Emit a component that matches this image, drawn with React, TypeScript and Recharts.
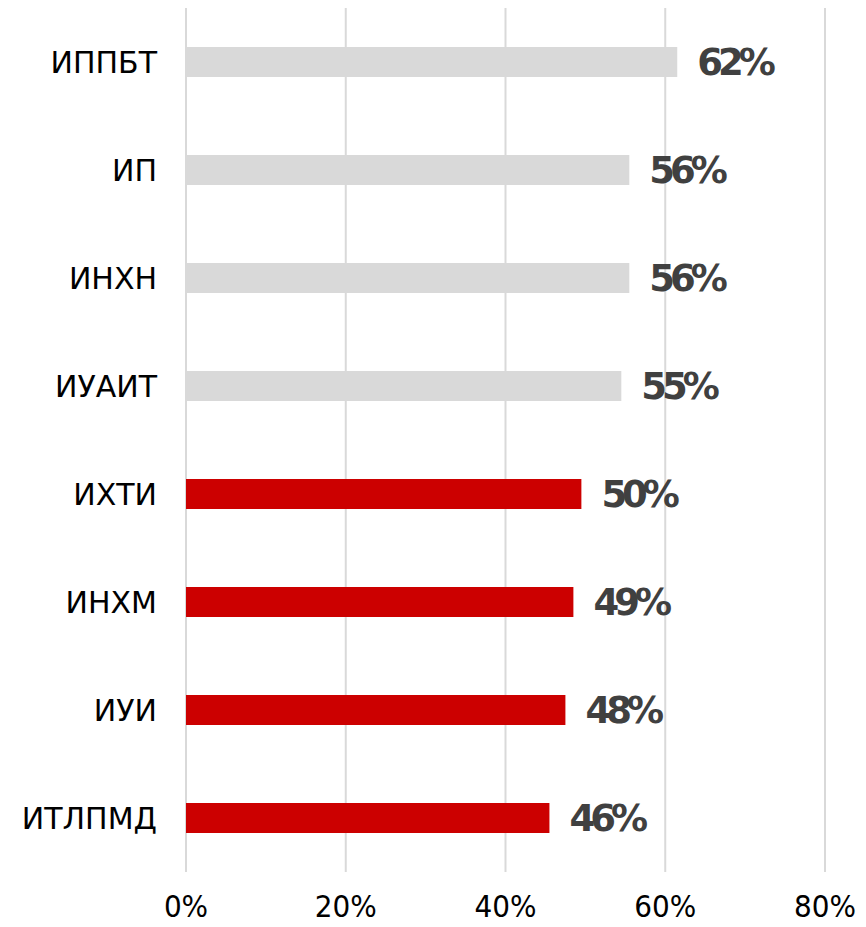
import React from "react";
import { BarChart, Bar, XAxis, YAxis, CartesianGrid, Cell, LabelList } from "recharts";

const categories = ["ИППБТ", "ИП", "ИНХН", "ИУАИТ", "ИХТИ", "ИНХМ", "ИУИ", "ИТЛПМД"];
const values = [61.5, 55.5, 55.5, 54.5, 49.5, 48.5, 47.5, 45.5];
const valueLabels = ["62%", "56%", "56%", "55%", "50%", "49%", "48%", "46%"];
const highlighted = [false, false, false, false, true, true, true, true];
const xTicks = [0, 20, 40, 60, 80];

const data = categories.map((name, i) => ({ name, value: values[i], label: valueLabels[i], hl: highlighted[i] }));

const FONT = "'DejaVu Sans', Verdana, sans-serif";

export default function App() {
  return (
    <div style={{ position: "absolute", left: 0, top: 0, width: 866, height: 927, background: "#fff" }}>
      <BarChart
        width={866}
        height={927}
        data={data}
        layout="vertical"
        margin={{ top: 8, right: 41, bottom: 0, left: 0 }}
        barCategoryGap={39}
      >
        <CartesianGrid horizontal={false} stroke="#d9d9d9" strokeWidth={2} />
        <XAxis
          type="number"
          domain={[0, 80]}
          ticks={xTicks}
          tickFormatter={(v: number) => `${v}%`}
          axisLine={false}
          tickLine={false}
          height={55}
          tickMargin={17}
          tick={{ fill: "#000", fontSize: 31, fontFamily: "'DejaVu Sans Condensed', 'DejaVu Sans', sans-serif" }}
          interval={0}
        />
        <YAxis
          type="category"
          dataKey="name"
          width={186}
          axisLine={false}
          tickLine={false}
          tickMargin={23}
          tick={{ fill: "#000", fontSize: 30, fontFamily: FONT }}
          interval={0}
        />
        <Bar dataKey="value" barSize={30} isAnimationActive={false}>
          {data.map((d, i) => (
            <Cell key={i} fill={d.hl ? "#cc0000" : "#d9d9d9"} />
          ))}
          <LabelList
            dataKey="label"
            position="right"
            offset={20}
            style={{ fill: "#404040", fontSize: 37, fontWeight: 700, fontFamily: FONT, letterSpacing: -5 }}
          />
        </Bar>
      </BarChart>
    </div>
  );
}
